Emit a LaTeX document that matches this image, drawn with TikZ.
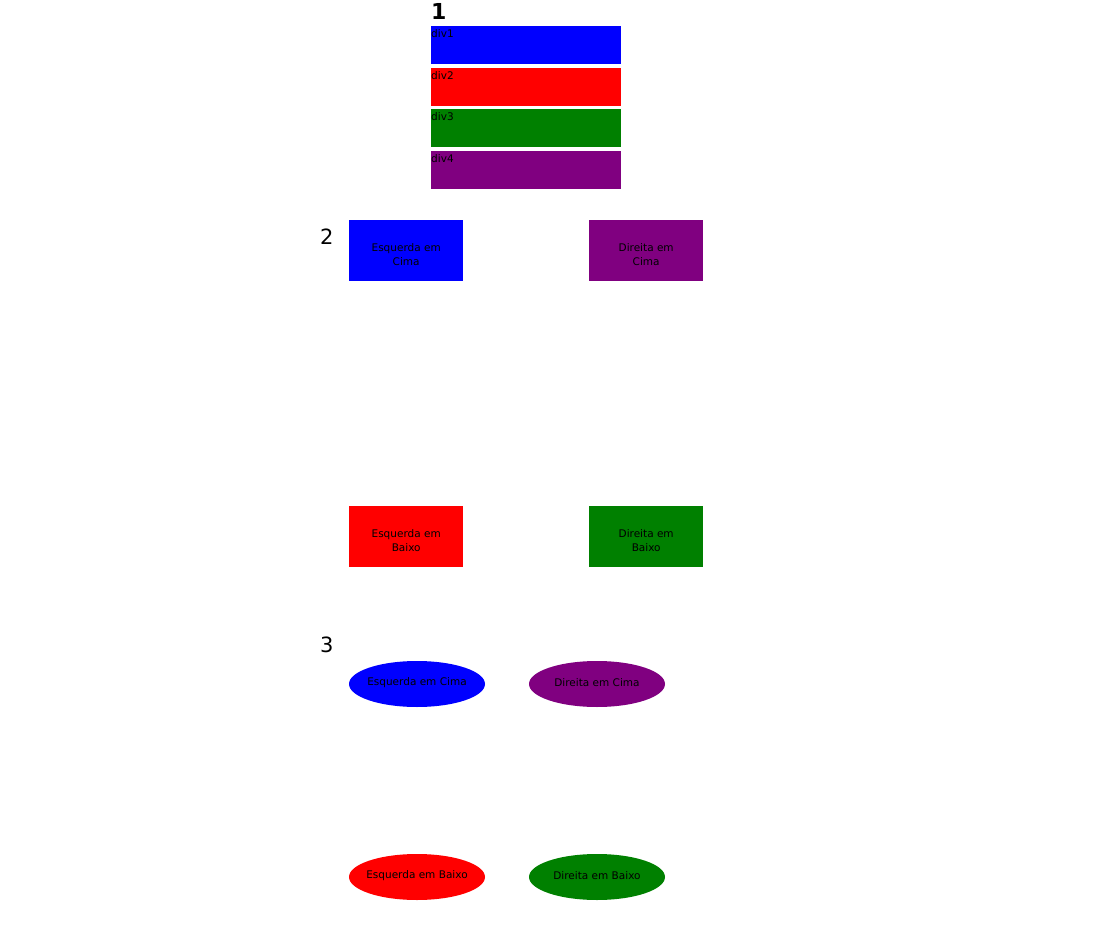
\documentclass[tikz,border=0pt]{standalone}
\usepackage{fontspec}
\setmainfont{DejaVu Sans}
\usetikzlibrary{shapes.geometric}
\definecolor{cblue}{RGB}{0,0,255}
\definecolor{cred}{RGB}{255,0,0}
\definecolor{cgreen}{RGB}{0,128,0}
\definecolor{cpurple}{RGB}{128,0,128}
\tikzset{
  num/.style={anchor=north west, inner sep=0pt, font=\fontsize{21}{24}\selectfont},
  divbar/.style={anchor=north west, inner sep=0pt, minimum width=190pt, minimum height=38pt},
  divlabel/.style={anchor=north west, inner sep=0pt, font=\fontsize{10.5}{12}\selectfont},
  quad/.style={anchor=north west, inner sep=0pt, minimum width=114pt, minimum height=61pt},
  qtext/.style={inner sep=0pt, align=center, yshift=-4pt, font=\fontsize{10.5}{14.5}\selectfont},
  oval/.style={ellipse, inner sep=0pt, minimum width=136pt, minimum height=46pt},
  otext/.style={inner sep=0pt, yshift=1pt, font=\fontsize{10.5}{12}\selectfont},
}
\begin{document}
\begin{tikzpicture}[x=1pt,y=-1pt]
\useasboundingbox (0,0) rectangle (1096,939);
% section 1
\node[num, font=\fontsize{22}{24}\selectfont\bfseries] (n1) at (431,3) {1};
\node[divbar, fill=cblue] (d1) at (431,26) {};
\node[divbar, fill=cred] (d2) at (431,68) {};
\node[divbar, fill=cgreen] (d3) at (431,109) {};
\node[divbar, fill=cpurple] (d4) at (431,151) {};
\node[divlabel] (t1) at (431,29) {div1};
\node[divlabel] (t2) at (431,71) {div2};
\node[divlabel] (t3) at (431,112) {div3};
\node[divlabel] (t4) at (431,154) {div4};
% section 2
\node[num] (n2) at (320,229) {2};
\node[quad, fill=cblue] (ec) at (349,220) {};
\node[quad, fill=cpurple] (dc) at (589,220) {};
\node[quad, fill=cred] (eb) at (349,506) {};
\node[quad, fill=cgreen] (db) at (589,506) {};
\node[qtext] (ect) at (ec.center) {Esquerda em\\Cima};
\node[qtext] (dct) at (dc.center) {Direita em\\Cima};
\node[qtext] (ebt) at (eb.center) {Esquerda em\\Baixo};
\node[qtext] (dbt) at (db.center) {Direita em\\Baixo};
% section 3
\node[num] (n3) at (320,637) {3};
\node[oval, fill=cblue] (oec) at (417,684) {};
\node[oval, fill=cpurple] (odc) at (597,684) {};
\node[oval, fill=cred] (oeb) at (417,877) {};
\node[oval, fill=cgreen] (odb) at (597,877) {};
\node[otext] (oect) at (oec.center) {Esquerda em Cima};
\node[otext] (odct) at (odc.center) {Direita em Cima};
\node[otext] (oebt) at (oeb.center) {Esquerda em Baixo};
\node[otext] (odbt) at (odb.center) {Direita em Baixo};
\end{tikzpicture}
\end{document}
